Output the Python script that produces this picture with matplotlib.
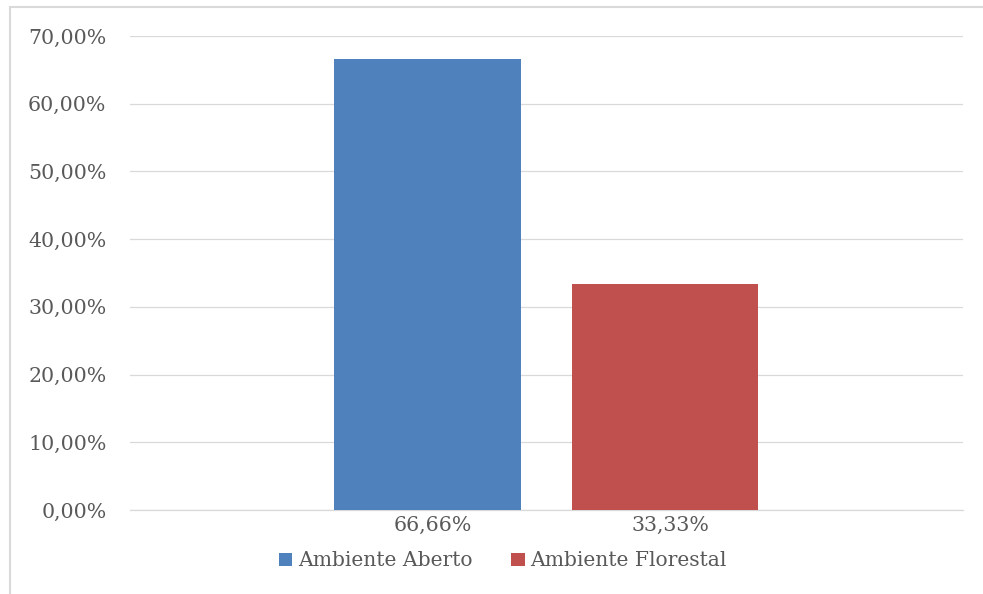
import matplotlib
matplotlib.use("Agg")
import matplotlib.pyplot as plt
import matplotlib.transforms as mtransforms
from matplotlib.patches import Rectangle
from matplotlib.ticker import FuncFormatter, MultipleLocator

series = ["Ambiente Aberto", "Ambiente Florestal"]
values = [0.6666, 0.3333]
labels = ["66,66%", "33,33%"]
colors = ["#4f81bd", "#c0504d"]

TEXT = "#595959"
GRID = "#d9d9d9"
plt.rcParams['font.family'] = ['DejaVu Serif']

fig = plt.figure(figsize=(9.83, 5.94), dpi=100)
fig.patch.set_facecolor("white")
ax = fig.add_axes([130/983, 1-510/594, (963-130)/983, (510-36)/594])

x = list(range(len(values)))
handles = []
for i, (v, c, s) in enumerate(zip(values, colors, series)):
    h = ax.bar(i, v, width=0.787, color=c, label=s, zorder=3)
    handles.append(h)

ax.set_xlim(-1.253, 2.255)
ax.set_ylim(0, 0.70)
ax.yaxis.set_major_locator(MultipleLocator(0.10))
ax.yaxis.set_major_formatter(FuncFormatter(lambda y, p: f"{y*100:.2f}%".replace(".", ",")))
ax.grid(axis="y", color=GRID, linewidth=0.9, zorder=0)
ax.set_axisbelow(True)
for sp in ["top", "right", "left"]:
    ax.spines[sp].set_visible(False)
ax.spines["bottom"].set_color(GRID)
ax.spines["bottom"].set_linewidth(0.9)

ax.set_xticks(x)
ax.set_xticklabels(labels)
ax.tick_params(axis="both", length=0, labelsize=14.8, labelcolor=TEXT)
ax.tick_params(axis="y", pad=17)
ax.tick_params(axis="x", pad=4)
off = mtransforms.ScaledTranslation(5/100, 0, fig.dpi_scale_trans)
for lab in ax.get_xticklabels():
    lab.set_transform(lab.get_transform() + off)

leg = fig.legend(handles=handles, labels=series, loc="center", bbox_to_anchor=(503/983, 1-561/594),
                 ncol=2, frameon=False, fontsize=14.6, labelcolor=TEXT,
                 handlelength=0.65, handleheight=0.65, handletextpad=0.3, columnspacing=1.9)

fig.patches.append(Rectangle((10/983, -0.1), 1.2, 1.1 - 7/594,
                             transform=fig.transFigure, fill=False, edgecolor=GRID, linewidth=1.5))

fig.savefig("out.png", dpi=100)
